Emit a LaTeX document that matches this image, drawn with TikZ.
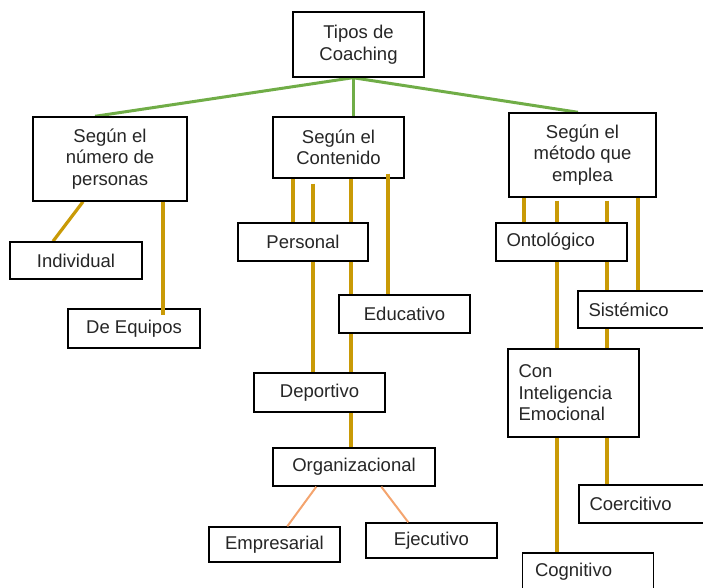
\documentclass[tikz,border=0pt]{standalone}
\usepackage{fontspec}
\setmainfont{Liberation Sans}
\usetikzlibrary{backgrounds}
\definecolor{branchgreen}{HTML}{70AD47}
\definecolor{branchgold}{HTML}{C99A06}
\definecolor{branchpeach}{HTML}{F4A46E}
\definecolor{inktext}{HTML}{262626}
\begin{document}
\begin{tikzpicture}[x=1pt, y=-1pt,
  box/.style={draw=black, line width=1.4pt, fill=white, inner sep=0pt,
    text=inktext, font=\fontsize{18.5}{21.5}\selectfont, align=center,
    minimum width=131pt, minimum height=38pt},
  leftbox/.style={box, align=left, text width=110pt, inner xsep=10.5pt},
  greenline/.style={draw=branchgreen, line width=3pt},
  goldline/.style={draw=branchgold, line width=3.2pt},
  peachline/.style={draw=branchpeach, line width=2pt}]
\useasboundingbox (0,0) rectangle (703,588);
\clip (0,0) rectangle (703,588);

% columns used by the connectors
\foreach \cx in {53,83,95,163,293,313,351,353,388,524,557,578,607,638}
  \coordinate (x\cx) at (\cx,0);

% root
\node[box, minimum height=65pt] (tipos) at (358.5,44.5) {Tipos de\\Coaching};

% first level
\node[box, minimum width=154pt, minimum height=84pt] (numero) at (110,159)
  {Según el\\número de\\personas};
\node[box, minimum height=61pt] (contenido) at (338.5,147.5) {Según el\\Contenido};
\node[box, minimum width=147pt, minimum height=84pt] (metodo) at (582.5,155)
  {Según el\\método que\\emplea};

% by number of people
\node[box, minimum width=132pt, minimum height=37pt] (individual) at (76,260.5) {Individual};
\node[box, minimum width=132pt, minimum height=39pt] (equipos) at (134,328.5) {De Equipos};

% by content
\node[box, minimum width=130pt] (personal) at (303,242) {Personal};
\node[box] (educativo) at (404.5,314) {Educativo};
\node[box, minimum height=39pt] (deportivo) at (319.5,392.5) {Deportivo};
\node[box, minimum width=162pt] (organizacional) at (354,467) {Organizacional};
\node[box, minimum height=35pt] (empresarial) at (274.5,544.5) {Empresarial};
\node[box, minimum height=35pt] (ejecutivo) at (431.5,540.5) {Ejecutivo};

% by method
\node[leftbox] (ontologico) at (561.5,242) {Ontológico};
\node[leftbox, minimum height=37pt] (sistemico) at (643.5,309.5) {Sistémico};
\node[leftbox, minimum height=88pt] (emocional) at (573.5,393)
  {Con\\Inteligencia\\Emocional};
\node[leftbox] (coercitivo) at (644.5,504) {Coercitivo};
\node[leftbox, text width=106pt, inner xsep=12pt] (cognitivo) at (588,572) {Cognitivo};

% connectors running behind the boxes
\begin{pgfonlayer}{background}
  \draw[greenline] (tipos.south -| x353) -- (numero.north -| x95);
  \draw[greenline] (tipos.south -| x353) -- (contenido.north -| x353);
  \draw[greenline] (tipos.south -| x353) -- (metodo.north -| x578);

  \draw[goldline] (numero.south -| x83) -- (individual.north -| x53);

  \draw[goldline] (contenido.south -| x293) -- (personal.north -| x293);
  \draw[goldline, shorten <=5pt] (contenido.south -| x313) -- (deportivo.north -| x313);
  \draw[goldline] (contenido.south -| x351) -- (organizacional.north -| x351);

  \draw[goldline] (metodo.south -| x524) -- (ontologico.north -| x524);
  \draw[goldline, shorten <=3pt] (metodo.south -| x557) -- (cognitivo.north -| x557);
  \draw[goldline, shorten <=3pt] (metodo.south -| x607) -- (coercitivo.north -| x607);
  \draw[goldline] (metodo.south -| x638) -- (sistemico.north -| x638);
\end{pgfonlayer}

% connectors drawn over the box edges
\draw[goldline, shorten >=-7pt] (numero.south -| x163) -- (equipos.north -| x163);
\draw[goldline, shorten <=-5pt] (contenido.south -| x388) -- (educativo.north -| x388);

\draw[peachline] ([xshift=44pt]organizacional.south west) -- ([xshift=79pt]empresarial.north west);
\draw[peachline] ([xshift=109pt]organizacional.south west) -- ([xshift=43pt]ejecutivo.north west);
\end{tikzpicture}
\end{document}
